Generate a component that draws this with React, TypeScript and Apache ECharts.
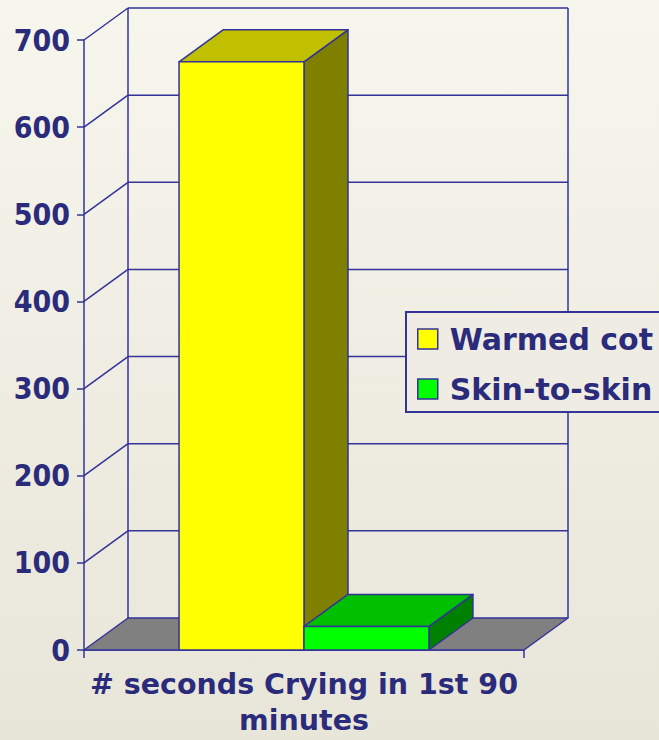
import React, { useEffect, useRef } from "react";
import * as echarts from "echarts";

const categories = ["# seconds Crying in 1st 90\nminutes"];
const seriesNames = ["Warmed cot", "Skin-to-skin"];
const warmedCot = [675];
const skinToSkin = [27];
const yTicks = [0, 100, 200, 300, 400, 500, 600, 700];

const FRONT = ["#ffff00", "#00ff00"];
const TOP = ["#c0c000", "#00c000"];
const SIDE = ["#808000", "#008000"];
const NAVY = "#333399";
const TEXT = "#2b2b7b";
const FONT_NUM = "'DejaVu Sans Condensed', 'DejaVu Sans', sans-serif";
const FONT = "'DejaVu Sans', sans-serif";
const DX = 44;
const DY = -32;
const BAR_RATIO = 0.284;

export default function App() {
  const ref = useRef<HTMLDivElement>(null);
  useEffect(() => {
    if (!ref.current) return;
    const chart = echarts.init(ref.current, null, { renderer: "svg" });

    const frameRender = (params: any, api: any) => {
      const cs = params.coordSys;
      const left = cs.x;
      const right = cs.x + cs.width;
      const v = api.value(1);
      const p = api.coord([0, v]);
      const y = p[1];
      const lineStyle = { stroke: NAVY, lineWidth: 1.5, fill: null };
      const children: any[] = [];
      if (v === 0) {
        children.push({
          type: "polygon",
          shape: { points: [[left, y], [right, y], [right + DX, y + DY], [left + DX, y + DY]] },
          style: { fill: "#808080", stroke: NAVY, lineWidth: 1.5, lineJoin: "round" },
        });
        const top = api.coord([0, yTicks[yTicks.length - 1]])[1];
        children.push({ type: "line", shape: { x1: left + DX, y1: y + DY, x2: left + DX, y2: top + DY }, style: lineStyle });
        children.push({ type: "line", shape: { x1: right + DX, y1: y + DY, x2: right + DX, y2: top + DY }, style: lineStyle });
      } else {
        children.push({ type: "line", shape: { x1: left, y1: y, x2: left + DX, y2: y + DY }, style: lineStyle });
        children.push({ type: "line", shape: { x1: left + DX, y1: y + DY, x2: right + DX, y2: y + DY }, style: lineStyle });
      }
      return { type: "group", children };
    };

    const barRender = (idx: number) => (params: any, api: any) => {
      const cat = api.value(0);
      const c0 = api.coord([cat, 0]);
      const c1 = api.coord([cat, api.value(1)]);
      const band = api.size([1, 0])[0];
      const w = band * BAR_RATIO;
      const x0 = c0[0] - w + idx * w;
      const yb = c0[1];
      const yt = c1[1];
      const st = { stroke: NAVY, lineWidth: 1.5, lineJoin: "round" };
      return {
        type: "group",
        children: [
          {
            type: "polygon",
            shape: { points: [[x0 + w, yt], [x0 + w + DX, yt + DY], [x0 + w + DX, yb + DY], [x0 + w, yb]] },
            style: { ...st, fill: SIDE[idx] },
          },
          {
            type: "polygon",
            shape: { points: [[x0, yt], [x0 + w, yt], [x0 + w + DX, yt + DY], [x0 + DX, yt + DY]] },
            style: { ...st, fill: TOP[idx] },
          },
          {
            type: "rect",
            shape: { x: x0, y: yt, width: w, height: yb - yt },
            style: { ...st, fill: FRONT[idx] },
          },
        ],
      };
    };

    const values = [warmedCot, skinToSkin];
    const labelText = {
      color: TEXT,
      fontFamily: FONT,
      fontWeight: "bold",
      fontSize: 28.5,
    };

    chart.setOption({
      animation: false,
      backgroundColor: {
        type: "linear",
        x: 0, y: 0, x2: 0, y2: 1,
        colorStops: [
          { offset: 0, color: "#f7f6ed" },
          { offset: 1, color: "#e8e5d9" },
        ],
      },
      grid: { left: 84, right: 135, top: 40, bottom: 90, containLabel: false, outerBoundsMode: "none" },
      xAxis: {
        type: "category",
        data: categories,
        axisLine: { show: true, lineStyle: { color: NAVY, width: 1.5 } },
        axisTick: { show: true, length: 8, lineStyle: { color: NAVY, width: 1.5 } },
        axisLabel: {
          ...labelText,
          margin: 18,
          align: "center",
          formatter: (v: string) => {
            const parts = v.split("\n");
            return `{a|${parts[0]}}\n{b|${parts[1]}}`;
          },
          rich: {
            a: { ...labelText, lineHeight: 39, padding: [0, 0, 6, 0] },
            b: { ...labelText, lineHeight: 26 },
          },
        },
        splitLine: { show: false },
      },
      yAxis: {
        type: "value",
        min: 0,
        max: 700,
        interval: 100,
        axisLine: { show: true, lineStyle: { color: NAVY, width: 1.5 } },
        axisTick: { show: true, length: 7, lineStyle: { color: NAVY, width: 1.5 } },
        axisLabel: { color: TEXT, fontFamily: FONT_NUM, fontWeight: "bold", fontSize: 30, margin: 14 },
        splitLine: { show: false },
      },
      legend: {
        orient: "vertical",
        left: 406,
        top: 312,
        padding: [12, 14, 8, 11],
        itemWidth: 20,
        itemHeight: 20,
        itemGap: 20,
        selectedMode: false,
        borderColor: NAVY,
        borderWidth: 2,
        backgroundColor: "#efede3",
        textStyle: { color: TEXT, fontFamily: FONT, fontWeight: "bold", fontSize: 30, lineHeight: 30, padding: [0, 0, 0, 7] },
        data: seriesNames.map((n, i) => ({
          name: n,
          icon: "rect",
          itemStyle: { color: FRONT[i], borderColor: NAVY, borderWidth: 1.5 },
        })),
      },
      series: [
        {
          type: "custom",
          name: "frame",
          z: 1,
          silent: true,
          renderItem: frameRender,
          encode: { x: 0, y: 1 },
          data: yTicks.map((v) => [0, v]),
        },
        ...seriesNames.map((n, i) => ({
          type: "custom",
          name: n,
          z: 2 + i,
          itemStyle: { color: FRONT[i] },
          renderItem: barRender(i),
          encode: { x: 0, y: 1 },
          data: values[i].map((v, k) => [k, v]),
        })),
      ],
    });
    return () => chart.dispose();
  }, []);
  return <div ref={ref} style={{ position: "fixed", left: 0, top: 0, width: 659, height: 740 }} />;
}
